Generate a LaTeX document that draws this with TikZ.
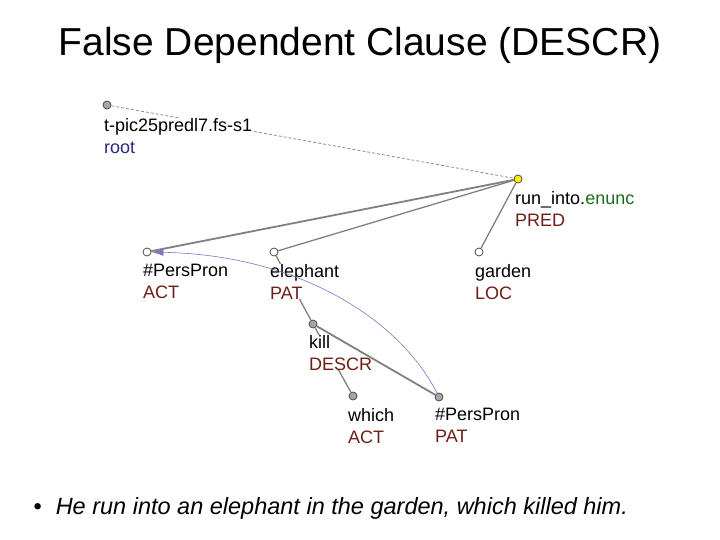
\documentclass[tikz,border=0pt]{standalone}
\usepackage{fontspec}
\setmainfont{Liberation Sans}
\usetikzlibrary{arrows.meta}
\definecolor{lab}{RGB}{110,30,20}
\definecolor{rootc}{RGB}{40,40,130}
\definecolor{gr}{RGB}{30,110,30}
\begin{document}
\begin{tikzpicture}[x=1pt,y=-1pt,
 dot/.style={circle,draw=black!70,line width=0.8pt,inner sep=0pt,minimum size=8pt},
 wdot/.style={dot,fill=white},
 gdot/.style={dot,fill=black!35},
 ydot/.style={dot,fill=yellow},
 lbl/.style={anchor=north west,align=left,font=\fontsize{18}{22}\selectfont,inner sep=0pt},
 edge/.style={draw=black!50,line width=1.8pt},
 thin/.style={draw=black!50,line width=1.3pt}]
\useasboundingbox (0,0) rectangle (720,540);
\node at (360,45) {\fontsize{39}{44}\selectfont False Dependent Clause (DESCR)};
\node[wdot] (p1) at (147,252) {};
\node[wdot] (el) at (274,252) {};
\node[wdot] (ga) at (479,252) {};
\node[ydot] (ru) at (518,179) {};
\node[gdot] (ro) at (107,105) {};
\node[gdot] (ki) at (313,324) {};
\node[gdot] (wh) at (353,396) {};
\node[gdot] (p2) at (439,397) {};
\draw[black!45,densely dashed,line width=0.8pt] (ro) -- (ru);
\draw[edge] (ru) -- (p1);
\draw[thin] (ru) -- (el);
\draw[thin] (ru) -- (ga);
\draw[thin] (el) -- (ki);
\draw[thin] (ki) -- (wh);
\node[lbl,fill=white] at (104,118) {t-pic25predl7.fs-s1\\\textcolor{rootc}{root}};
\node[lbl,fill=white] at (515,191) {run\_into.\textcolor{gr}{enunc}\\\textcolor{lab}{PRED}};
\node[lbl,fill=white] at (143,264) {\#PersPron\\\textcolor{lab}{ACT}};
\node[lbl,fill=white] at (270,264) {elephant\\\textcolor{lab}{PAT}};
\node[lbl,fill=white] at (475,264) {garden\\\textcolor{lab}{LOC}};
\node[lbl,fill=white] at (309,335) {kill\\\textcolor{lab}{DESCR}};
\node[lbl] at (348,408) {which\\\textcolor{lab}{ACT}};
\node[lbl] at (435,408) {\#PersPron\\\textcolor{lab}{PAT}};
\draw[edge] (ki) -- (p2);
\draw[draw={rgb,255:red,120;green,120;blue,200},line width=0.6pt,-{Latex[length=12pt,width=7pt]}] (p2) .. controls (400,320) and (300,255) .. (p1);
\node[anchor=west] at (30,508) {\fontsize{23.5}{26}\selectfont •\hspace{14pt}\textit{He run into an elephant in the garden, which killed him.}};
\end{tikzpicture}
\end{document}
